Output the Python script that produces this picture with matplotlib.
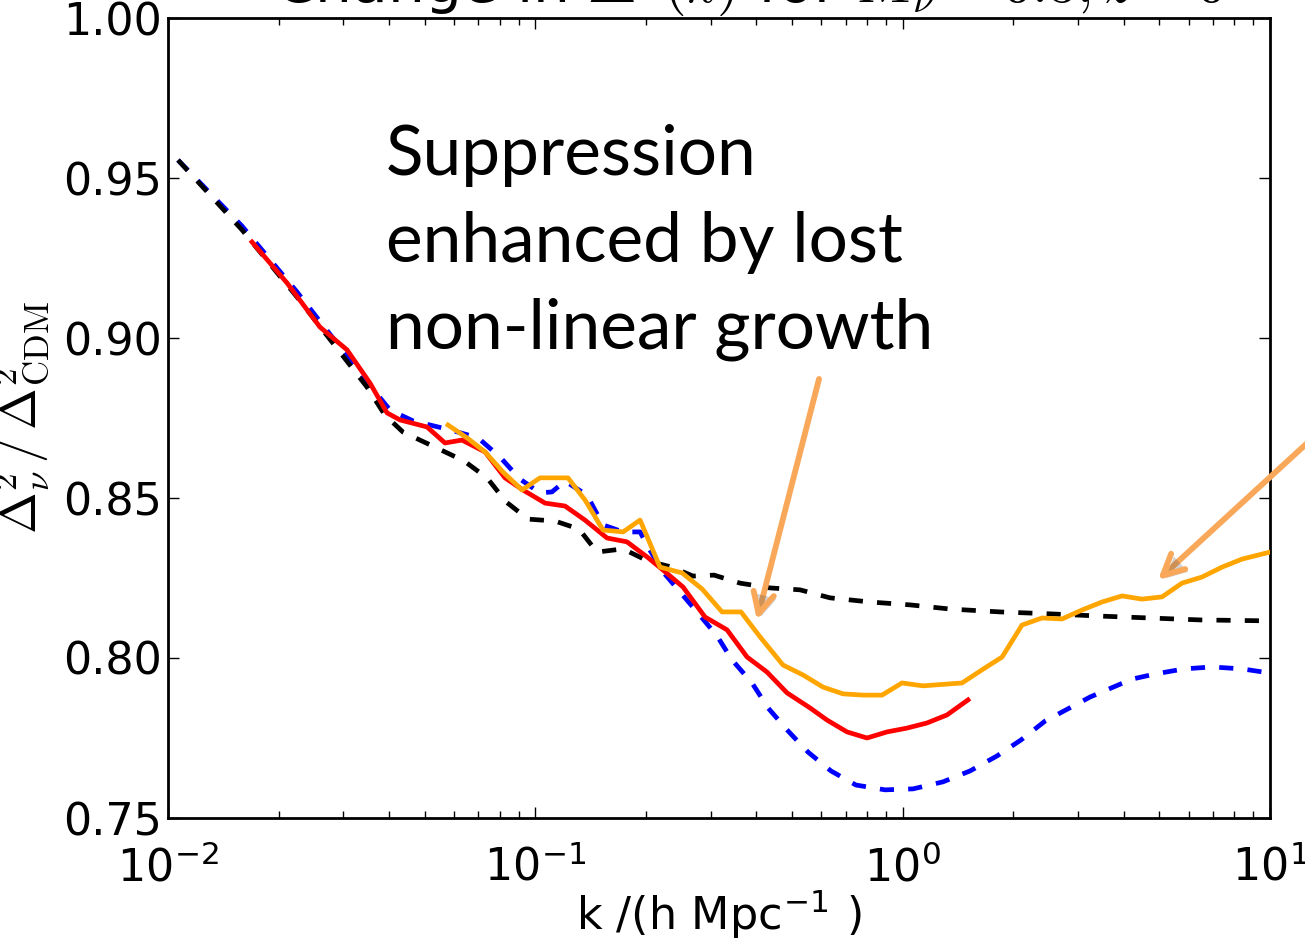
import numpy as np
import matplotlib
matplotlib.use('Agg')
import matplotlib.pyplot as plt
import matplotlib.ticker as mticker
import matplotlib.patheffects as pe

plt.rcParams['mathtext.fontset'] = 'cm'
plt.rcParams['font.family'] = 'DejaVu Sans'

# Ratio of power spectra with massive neutrinos to CDM-only
k_blue = [0.01065, 0.0159, 0.02245, 0.02812, 0.0348, 0.04022, 0.04645, 0.05857,
          0.06983, 0.08014, 0.09085, 0.103, 0.111, 0.1204, 0.1382, 0.1528, 0.1733,
          0.1928, 0.2026, 0.2226, 0.2755, 0.3124, 0.3431, 0.389, 0.43, 0.4875,
          0.5525, 0.6381, 0.7464, 0.8953, 1.067, 1.288, 1.525, 1.807, 2.1, 2.442,
          3.237, 4.21, 4.864, 5.834, 6.953, 8.392, 10.0]
r_blue = [0.9556, 0.935, 0.9144, 0.9, 0.8863, 0.8775, 0.8741, 0.8713,
          0.8688, 0.8628, 0.8559, 0.8516, 0.8519, 0.8553, 0.8509, 0.8416, 0.8394,
          0.8394, 0.8347, 0.8269, 0.8144, 0.8069, 0.7994, 0.7922, 0.7844, 0.7772,
          0.7706, 0.7647, 0.7603, 0.7588, 0.7591, 0.7613, 0.7647, 0.7694, 0.7744, 0.7803,
          0.7878, 0.7934, 0.795, 0.7966, 0.7972, 0.7966, 0.7953]

k_black = [0.01065, 0.0159, 0.02245, 0.02812, 0.0348, 0.03897, 0.04362, 0.05398,
           0.06393, 0.07386, 0.08322, 0.09552, 0.1131, 0.1315, 0.1472, 0.1733,
           0.2026, 0.2355, 0.2686, 0.3065, 0.3607, 0.4355, 0.5255, 0.6342, 0.8149,
           1.047, 1.346, 1.841, 2.518, 3.445, 4.715, 6.45, 10.0]
r_black = [0.9556, 0.9338, 0.9128, 0.8984, 0.8847, 0.8759, 0.8706, 0.8656,
           0.8616, 0.8563, 0.8488, 0.8434, 0.8428, 0.8403, 0.8331, 0.8341,
           0.8303, 0.8284, 0.8256, 0.8259, 0.8234, 0.8219, 0.8213, 0.8188, 0.8175,
           0.8166, 0.8153, 0.8144, 0.8138, 0.8131, 0.8125, 0.8119, 0.8116]

k_red = [0.01693, 0.02109, 0.02593, 0.03071, 0.03548, 0.03947, 0.04281, 0.05072,
         0.05677, 0.06315, 0.07295, 0.08268, 0.09256, 0.1063, 0.1204, 0.1365,
         0.1567, 0.1776, 0.2014, 0.2226, 0.2523, 0.2897, 0.3325, 0.3771, 0.4273,
         0.4844, 0.5595, 0.6225, 0.7056, 0.7998, 0.9066, 1.028, 1.165, 1.32, 1.506]
r_red = [0.93, 0.9172, 0.9034, 0.8963, 0.8859, 0.8766, 0.8744, 0.8722,
         0.8672, 0.8681, 0.8644, 0.8563, 0.8525, 0.8484, 0.8475, 0.8431,
         0.8375, 0.8363, 0.8316, 0.8275, 0.8222, 0.8128, 0.8088, 0.8003, 0.7956,
         0.7891, 0.7844, 0.7806, 0.7769, 0.775, 0.7769, 0.7781, 0.7797, 0.7822, 0.7869]

k_orange = [0.05785, 0.06516, 0.07295, 0.08166, 0.09199, 0.103, 0.1227, 0.1365,
            0.1528, 0.1733, 0.1928, 0.2185, 0.2508, 0.2843, 0.3223, 0.363, 0.409,
            0.4724, 0.5355, 0.6071, 0.688, 0.7799, 0.8786, 0.9959, 1.136, 1.451,
            1.644, 1.865, 2.113, 2.395, 2.716, 3.078, 3.489, 3.956, 4.483, 5.083,
            5.761, 6.531, 7.404, 8.392, 10.0]
r_orange = [0.8728, 0.8688, 0.8644, 0.8581, 0.8525, 0.8563, 0.8563, 0.8494,
            0.84, 0.8394, 0.8431, 0.8284, 0.8266, 0.8216, 0.8144, 0.8144, 0.8066,
            0.7978, 0.7947, 0.7909, 0.7888, 0.7884, 0.7884, 0.7922, 0.7913, 0.7922,
            0.7963, 0.8003, 0.8103, 0.8125, 0.8122, 0.815, 0.8175, 0.8194, 0.8184, 0.8191,
            0.8234, 0.8253, 0.8284, 0.8309, 0.8331]

y_ticks = [0.75, 0.80, 0.85, 0.90, 0.95, 1.00]

arrow_clr = '#f9a85a'

fig = plt.figure(figsize=(13.05, 9.5), dpi=100)
ax = fig.add_axes([168/1305, 132/950, 1102/1305, 800/950])

ax.plot(k_blue, r_blue, color='blue', lw=3.4, dashes=(3.0, 3.0), zorder=2)
ax.plot(k_black, r_black, color='black', lw=3.4, dashes=(3.0, 3.0), zorder=3)
ax.plot(k_red, r_red, color='red', lw=3.4, zorder=4)
ax.plot(k_orange, r_orange, color='orange', lw=3.4, zorder=5)

ax.set_xscale('log')
ax.set_xlim(1e-2, 10)
ax.set_ylim(0.75, 1.0)
ax.set_yticks(y_ticks)
ax.yaxis.set_major_formatter(mticker.FormatStrFormatter('%.2f'))
ax.xaxis.set_major_formatter(mticker.FuncFormatter(
    lambda v, p: r'$\mathregular{10^{%d}}$' % round(np.log10(v))))

ax.tick_params(which='both', direction='in', top=True, right=True, width=1,
               labelsize=32)
ax.tick_params(axis='x', pad=20)
ax.tick_params(axis='y', pad=4)
ax.tick_params(which='major', length=8)
ax.tick_params(which='minor', length=5)
for s in ax.spines.values():
    s.set_linewidth(2)

ax.set_xlabel(r'k /(h Mpc$^{\mathregular{-1}}$ )', fontsize=32, labelpad=-2)
ax.set_ylabel(r'$\Delta^2_\nu\,/\,\Delta^2_{\mathrm{CDM}}$', fontsize=36, labelpad=10)
ax.set_title(r'Change in $\Delta^2(k)$ for $M_\nu = 0.3, z=0$', fontsize=42,
             pad=6, x=0.528)

ax.text(0.198, 0.868, 'Suppression\nenhanced by lost\nnon-linear growth',
        transform=ax.transAxes, ha='left', va='top', fontsize=50,
        family='Lato', linespacing=1.47)

shadow = [pe.SimplePatchShadow(offset=(2, -2), alpha=0.25), pe.Normal()]
arrow_kw = dict(arrowstyle='->,head_length=1.5,head_width=0.75',
                color=arrow_clr, lw=4.2, path_effects=shadow,
                shrinkA=0, shrinkB=0)
ax.annotate('', xy=(0.401, 0.8119), xytext=(0.592, 0.8872), arrowprops=arrow_kw)
ax.annotate('', xy=(4.956, 0.8244), xytext=(22.6, 0.8938), arrowprops=arrow_kw,
            annotation_clip=False)

fig.savefig('out.png', dpi=100)
